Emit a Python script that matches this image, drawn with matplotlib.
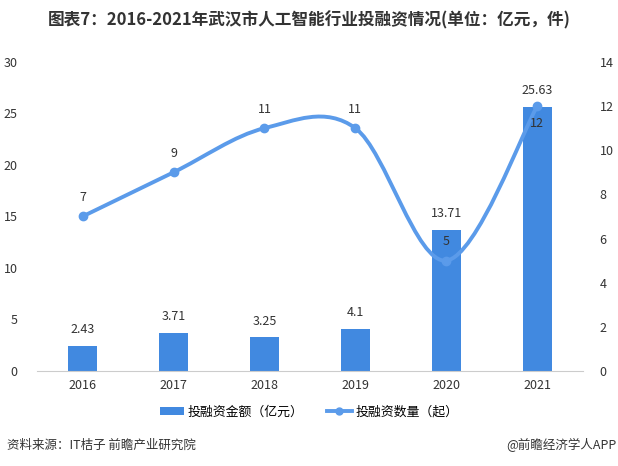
import matplotlib
matplotlib.use("Agg")
import matplotlib.pyplot as plt
from matplotlib.path import Path
from matplotlib.patches import PathPatch, Patch
from matplotlib.lines import Line2D
import numpy as np

plt.rcParams['font.family'] = ['Noto Sans CJK SC', 'DejaVu Sans']

years = ['2016', '2017', '2018', '2019', '2020', '2021']
amount = [2.43, 3.71, 3.25, 4.1, 13.71, 25.63]    # 亿元
deals = [7, 9, 11, 11, 5, 12]                     # 起
amount_labels = ['2.43', '3.71', '3.25', '4.1', '13.71', '25.63']

bar_color = '#4189E0'
line_color = '#5B9BEA'
text_color = '#333333'

fig = plt.figure(figsize=(6.18, 4.66), dpi=100)
ax = fig.add_axes([0.06, 0.204, 0.883, 0.663])
ax2 = ax.twinx()

x = np.arange(len(years))
bars = ax.bar(x, amount, width=0.32, color=bar_color, zorder=2)
for xi, v, lab in zip(x, amount, amount_labels):
    ax.annotate(lab, (xi, v), xytext=(0, 7), textcoords='offset points',
                ha='center', va='bottom', fontsize=9, color=text_color)

ax.set_xlim(-0.5, len(years) - 0.5)
ax.set_ylim(0, 30)
ax.set_yticks(range(0, 31, 5))
ax.set_xticks(x)
ax.set_xticklabels(years)
ax2.set_ylim(0, 14)
ax2.set_yticks(range(0, 15, 2))

for a in (ax, ax2):
    for s in ('top', 'left', 'right', 'bottom'):
        a.spines[s].set_visible(False)
    a.tick_params(length=0, labelsize=9, colors=text_color)
ax.spines['bottom'].set_visible(True)
ax.spines['bottom'].set_color('#cccccc')
ax.tick_params(axis='y', pad=14)
ax.tick_params(axis='x', pad=6)
ax2.tick_params(axis='y', pad=12)

# smooth line through the points (Catmull-Rom as cubic Bezier)
pts = np.column_stack([x, deals]).astype(float)
ext = np.vstack([pts[0], pts, pts[-1]])
verts = [tuple(pts[0])]
codes = [Path.MOVETO]
for i in range(len(pts) - 1):
    p0, p1, p2, p3 = ext[i], ext[i + 1], ext[i + 2], ext[i + 3]
    c1 = p1 + (p2 - p0) / 6
    c2 = p2 - (p3 - p1) / 6
    verts += [tuple(c1), tuple(c2), tuple(p2)]
    codes += [Path.CURVE4] * 3
ax2.add_patch(PathPatch(Path(verts, codes), facecolor='none', edgecolor=line_color,
                        lw=2.8, zorder=3, capstyle='round'))
ax2.plot(x, deals, 'o', color=line_color, markersize=6, zorder=4)
for xi, v in zip(x, deals):
    if v == max(deals):
        ax2.annotate(str(v), (xi, v), xytext=(0, -8), textcoords='offset points',
                     ha='center', va='top', fontsize=9, color=text_color)
    else:
        ax2.annotate(str(v), (xi, v), xytext=(0, 9), textcoords='offset points',
                     ha='center', va='bottom', fontsize=9, color=text_color)

fig.text(0.5, 0.957, '图表7：2016-2021年武汉市人工智能行业投融资情况(单位：亿元，件)',
         ha='center', va='center', fontsize=12, fontweight='bold', color=text_color)

handles = [Patch(facecolor=bar_color, edgecolor='none'),
           Line2D([0], [0], color=line_color, lw=2.8, marker='o', markersize=5)]
fig.legend(handles, ['投融资金额（亿元）', '投融资数量（起）'], loc='center',
           bbox_to_anchor=(0.5, 0.116), ncol=2, frameon=False, fontsize=9.3,
           handlelength=1.9, handleheight=0.5, columnspacing=1.8, handletextpad=0.3)

fig.text(0.012, 0.045, '资料来源：IT桔子 前瞻产业研究院', ha='left', va='center',
         fontsize=9, color=text_color)
fig.text(0.998, 0.045, '@前瞻经济学人APP', ha='right', va='center',
         fontsize=9, color=text_color)

fig.savefig('out.png', dpi=100)
